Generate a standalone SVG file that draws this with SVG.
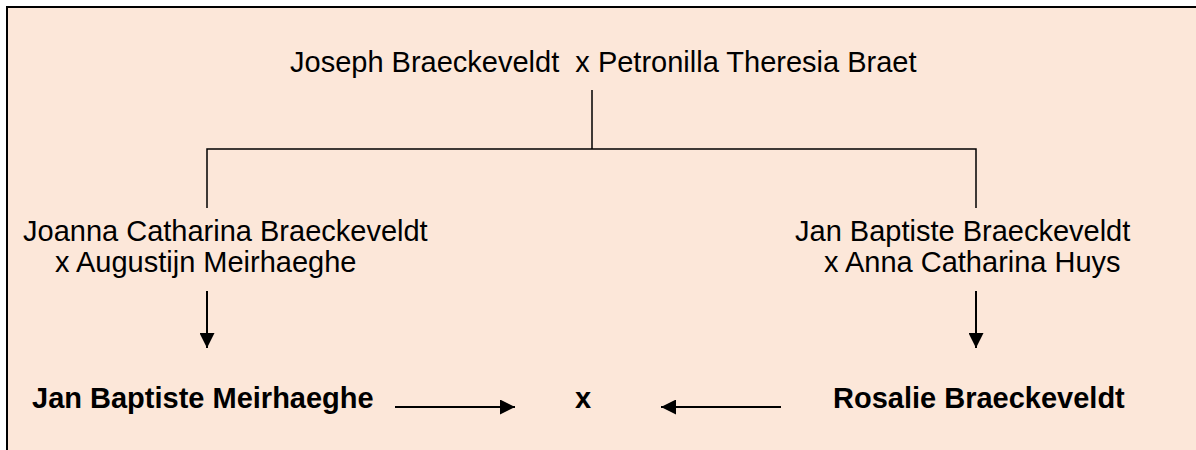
<svg xmlns="http://www.w3.org/2000/svg" width="1196" height="450" viewBox="0 0 1196 450">
<defs>
<style>
.t{font-family:"Liberation Sans",Arial,sans-serif;font-size:29px;fill:#000;white-space:pre}
.b{font-weight:bold}
.ln{stroke:#000;stroke-width:1.5;fill:none}
.ar{stroke:#000;stroke-width:2;fill:none}
</style>
<marker id="ah" viewBox="0 0 15 15" refX="15" refY="7.5" markerWidth="15" markerHeight="15" markerUnits="userSpaceOnUse" orient="auto">
<path d="M0,0 L15,7.5 L0,15 Z" fill="#000"/>
</marker>
</defs>
<rect x="0" y="0" width="1196" height="450" fill="#fff"/>
<rect x="7" y="7" width="1200" height="460" fill="#FCE7D9" stroke="#000" stroke-width="2"/>
<g id="parents"><text class="t" x="290" y="72" xml:space="preserve">Joseph Braeckeveldt  x Petronilla Theresia Braet</text></g>
<g id="joanna"><text class="t" x="23" y="241">Joanna Catharina Braeckeveldt</text><text class="t" x="55" y="272">x Augustijn Meirhaeghe</text></g>
<g id="janbaptisteB"><text class="t" x="795" y="241">Jan Baptiste Braeckeveldt</text><text class="t" x="824" y="272">x Anna Catharina Huys</text></g>
<g id="janbaptisteM"><text class="t b" x="32" y="408">Jan Baptiste Meirhaeghe</text></g>
<g id="marriage"><text class="t b" x="575" y="408">x</text></g>
<g id="rosalie"><text class="t b" x="833" y="408">Rosalie Braeckeveldt</text></g>
<g id="connectors">
<path class="ln" d="M592,90 V149 M207,208 V149 H976 V208"/>
<path class="ar" d="M207,291 V348" marker-end="url(#ah)"/>
<path class="ar" d="M976,291 V348" marker-end="url(#ah)"/>
<path class="ar" d="M395,407 H515" marker-end="url(#ah)"/>
<path class="ar" d="M781,407 H661" marker-end="url(#ah)"/>
</g>
</svg>
